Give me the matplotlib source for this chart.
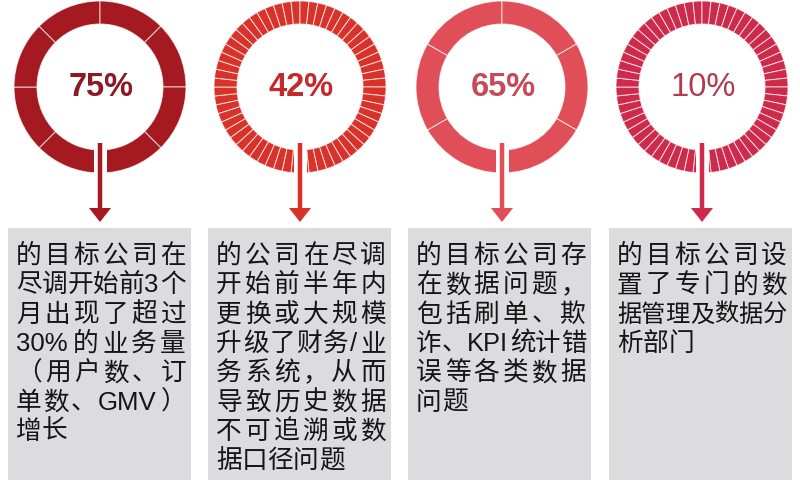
import re
import numpy as np
import matplotlib.pyplot as plt
from matplotlib.patches import Wedge, Rectangle

plt.rcParams['font.family'] = ['Noto Sans CJK SC', 'DejaVu Sans']

# data
percents = [75, 42, 65, 10]
segments = [8, 60, 6, 60]
ring_colors = ['#A51A21', '#D9322A', '#E04E58', '#CE2A4C']
label_colors = ['#8A1A26', '#C42A2C', '#C84A5A', '#B23A4C']
label_weights = ['bold', 'bold', 'bold', 'normal']
texts = [
    ['的目标公司在', '尽调开始前3个', '月出现了超过', '30%的业务量',
     '（用户数、订', '单数、GMV）', '增长'],
    ['的公司在尽调', '开始前半年内', '更换或大规模', '升级了财务/业',
     '务系统，从而', '导致历史数据', '不可追溯或数', '据口径问题'],
    ['的目标公司存', '在数据问题，', '包括刷单、欺', '诈、KPI统计错',
     '误等各类数据', '问题'],
    ['的目标公司设', '置了专门的数', '据管理及数据分', '析部门'],
]

# layout
DPI = 100
centers = [100, 300, 502, 702]
cy = 87
r_out, r_in = 86, 63
box_left = [8, 208, 408, 609]
box_w = 183
box_top = 228
FS = 18.5
line0 = 263
line_step = 29.3
text_fonts = ['Liberation Sans', 'Noto Sans CJK SC']

fig = plt.figure(figsize=(8, 4.8), dpi=DPI)
ax = fig.add_axes([0, 0, 1, 1])
ax.set_xlim(0, 800)
ax.set_ylim(480, 0)
ax.axis('off')
renderer = fig.canvas.get_renderer()


def token_width(tok, fs):
    if ord(tok[0]) > 0x2000:
        return fs * DPI / 72
    t = ax.text(0, 0, tok, fontsize=fs, family=text_fonts)
    w = t.get_window_extent(renderer).width
    t.remove()
    return w + 2


def draw_line(x0, y, s, avail, justify, color):
    # ascii runs stay together, every CJK char is its own token
    toks = re.findall(r'[\x00-\x7f]+|.', s)
    fs = FS
    ws = [token_width(tk, fs) for tk in toks]
    total = sum(ws)
    if total > avail:
        fs = fs * avail / total
        ws = [w * avail / total for w in ws]
        total = avail
    gap = (avail - total) / (len(toks) - 1) if justify and len(toks) > 1 else 0
    x = x0
    for tk, w in zip(toks, ws):
        ax.text(x, y, tk, fontsize=fs, ha='left', va='baseline', color=color,
                family=text_fonts)
        x += w + gap


for i in range(4):
    c = centers[i]
    n = segments[i]
    step = 360 / n
    for k in range(n):
        ax.add_patch(Wedge((c, cy), r_out, 90 + k * step, 90 + (k + 1) * step,
                           width=r_out - r_in, fc=ring_colors[i],
                           ec=(1, 1, 1, 0.75), lw=0.7))
    # gap for the arrow
    ax.add_patch(Rectangle((c - 6.5, cy + 50), 13, 45, fc='white', ec='none', zorder=3))
    ax.arrow(c, 143, 0, 79, width=4.5, head_width=22, head_length=14,
             length_includes_head=True, color=ring_colors[i], lw=0, zorder=4)

    ax.text(c + 1, cy + 1, f'{percents[i]}%', ha='center', va='center',
            fontsize=23.5, fontweight=label_weights[i], family='Liberation Sans',
            color=label_colors[i])

    # text box
    ax.add_patch(Rectangle((box_left[i], box_top), box_w, 480 - box_top + 5,
                           fc='#DCDCDE', ec='none'))
    lines = texts[i]
    for j, s in enumerate(lines):
        draw_line(box_left[i] + 8, line0 + j * line_step, s, 170,
                  j < len(lines) - 1, '#151515')

fig.savefig('out.png', dpi=DPI, facecolor='white')
